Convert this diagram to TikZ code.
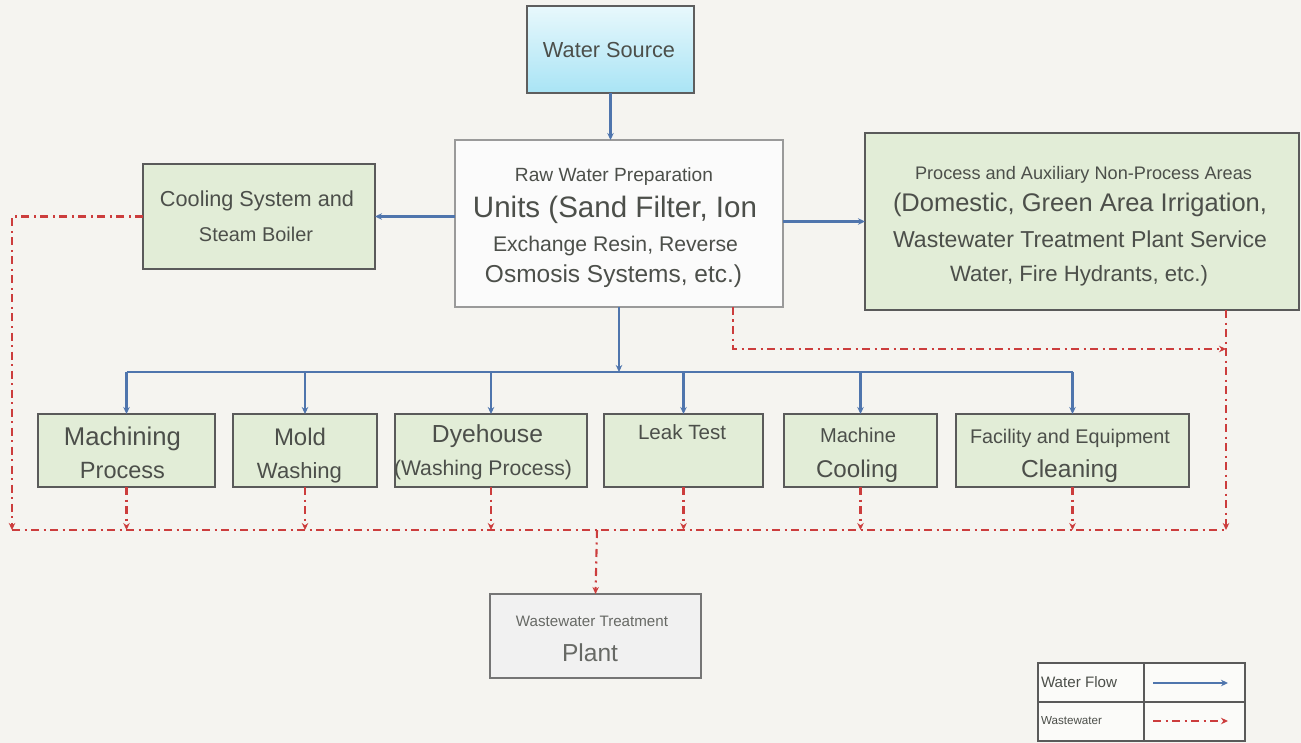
\documentclass[tikz,border=0pt]{standalone}
\usepackage{fontspec}
\setmainfont{Liberation Sans}
\usepackage{graphicx}
\usetikzlibrary{arrows.meta}
\definecolor{bgc}{HTML}{F5F4F0}
\definecolor{greenf}{HTML}{E2EDD7}
\definecolor{boxb}{HTML}{5A5A5A}
\definecolor{rawf}{HTML}{FBFBFB}
\definecolor{rawb}{HTML}{9A9A9A}
\definecolor{plantf}{HTML}{F1F1F1}
\definecolor{plantb}{HTML}{757575}
\definecolor{bluec}{HTML}{4F75AD}
\definecolor{redc}{HTML}{CC3D3D}
\definecolor{txtc}{HTML}{4C4F4A}
\definecolor{srctop}{HTML}{E8F8FC}
\definecolor{srcbot}{HTML}{A9E4F5}
\newcommand{\fitw}[2]{\resizebox{#1pt}{!}{#2}}
\tikzset{
  box/.style={draw=boxb, line width=1.3pt, fill=greenf, inner sep=0pt, outer sep=0pt},
  txt/.style={anchor=base, inner sep=0pt, outer sep=0pt, text=txtc},
  ltxt/.style={anchor=base west, inner sep=0pt, outer sep=0pt, text=txtc},
  flowl/.style={draw=bluec, line width=2.6pt},
  flow/.style={flowl, -{Stealth[length=7pt,width=6.5pt]}},
  wastel/.style={draw=redc, line width=2.1pt, dash pattern=on 8pt off 4.5pt on 2pt off 4.5pt},
  waste/.style={wastel, -{Stealth[length=7pt,width=6.5pt]}},
  legcell/.style={draw=boxb, line width=1.2pt, inner sep=0pt, outer sep=0pt, fill=white!60!bgc},
}
\begin{document}
\begin{tikzpicture}[x=1pt,y=-1pt]
\fill[bgc] (0,0) rectangle (1301,743);
\useasboundingbox (0,0) rectangle (1301,743);

% boxes
\node[box, draw=plantb!80!black, top color=srctop, bottom color=srcbot, minimum width=167pt, minimum height=87pt] (src) at (610.5,49.5) {};
\node[box, draw=rawb, fill=rawf, minimum width=328pt, minimum height=167pt] (raw) at (619,223.5) {};
\node[box, minimum width=232pt, minimum height=105pt] (cool) at (259,216.5) {};
\node[box, minimum width=434pt, minimum height=177pt] (proc) at (1082,221.5) {};
\node[box, minimum width=177pt, minimum height=73pt] (mach) at (126.5,450.5) {};
\node[box, minimum width=144pt, minimum height=73pt] (mold) at (305,450.5) {};
\node[box, minimum width=192pt, minimum height=73pt] (dye) at (491,450.5) {};
\node[box, minimum width=159pt, minimum height=73pt] (leak) at (683.5,450.5) {};
\node[box, minimum width=153pt, minimum height=73pt] (mc) at (860.5,450.5) {};
\node[box, minimum width=233pt, minimum height=73pt] (fac) at (1072.5,450.5) {};
\node[box, draw=plantb, fill=plantf, minimum width=211pt, minimum height=84pt] (plant) at (595.5,636) {};

% texts
\node[txt] (srct) at (609,58) {\fitw{132}{Water Source}};
\node[txt] (raw1) at (614,182) {\fitw{198}{Raw Water Preparation}};
\node[txt] (raw2) at (615,218) {\fitw{284}{Units (Sand Filter, Ion}};
\node[txt] (raw3) at (615.5,252) {\fitw{245}{Exchange Resin, Reverse}};
\node[txt] (raw4) at (613.5,283) {\fitw{257}{Osmosis Systems, etc.)}};
\node[txt] (cool1) at (257,207) {\fitw{194}{Cooling System and}};
\node[txt] (cool2) at (256,242) {\fitw{114}{Steam Boiler}};
\node[txt] (proc1) at (1083.5,180) {\fitw{337}{Process and Auxiliary Non-Process Areas}};
\node[txt] (proc2) at (1080,212) {\fitw{374}{(Domestic, Green Area Irrigation,}};
\node[txt] (proc3) at (1080,248) {\fitw{374}{Wastewater Treatment Plant Service}};
\node[txt] (proc4) at (1079,282) {\fitw{258}{Water, Fire Hydrants, etc.)}};
\node[txt] (mach1) at (122.5,445) {\fitw{117}{Machining}};
\node[txt] (mach2) at (122.5,478) {\fitw{85}{Process}};
\node[txt] (mold1) at (300,445) {\fitw{52}{Mold}};
\node[txt] (mold2) at (299.5,478) {\fitw{85}{Washing}};
\node[txt] (dye1) at (487.5,442) {\fitw{111}{Dyehouse}};
\node[txt] (dye2) at (483,475) {\fitw{178}{(Washing Process)}};
\node[txt] (leak1) at (682,439) {\fitw{88}{Leak Test}};
\node[txt] (mc1) at (858,442) {\fitw{76}{Machine}};
\node[txt] (mc2) at (857,477) {\fitw{82}{Cooling}};
\node[txt] (fac1) at (1070,443) {\fitw{200}{Facility and Equipment}};
\node[txt] (fac2) at (1069.5,477) {\fitw{97}{Cleaning}};
\node[txt, text=txtc!85] (pl1) at (592,626) {\fitw{152}{Wastewater Treatment}};
\node[txt, text=txtc!85] (pl2) at (590,661) {\fitw{56}{Plant}};

% water flow
\coordinate (bus) at (617,372);
\draw[flow] (src.south) -- (src.south |- raw.north);
\draw[flow] (raw.west |- cool.east) -- (cool.east);
\draw[flow] (raw.east |- proc.west) -- (proc.west);
\draw[flow] (raw.south) -- (raw.south |- bus);
\draw[flowl] (bus -| mach.north) -- (bus -| fac.north);
\foreach \b in {mach,mold,dye,leak,mc,fac}
  \draw[flow] (bus -| \b.north) -- (\b.north);

% wastewater
\coordinate (colL) at (12,530);
\coordinate (colR) at (1226,530);
\coordinate (rwx) at (733,349);
\coordinate (pj) at (597,530);
\draw[wastel] (colL) -- (colR);
\draw[waste] (cool.west) -- (cool.west -| colL) -- (colL);
\foreach \b in {mach,mold,dye,leak,mc,fac}
  \draw[waste] (\b.south) -- (\b.south |- colL);
\draw[waste] (raw.south -| rwx) -- (rwx) -- (rwx -| colR);
\draw[waste] (proc.south -| colR) -- (colR);
\draw[waste] (pj) -- (plant.north);

% legend
\node[legcell, minimum width=106pt, minimum height=39pt] (lg11) at (1091,682.5) {};
\node[legcell, minimum width=101pt, minimum height=39pt] (lg12) at (1194.5,682.5) {};
\node[legcell, minimum width=106pt, minimum height=39pt] (lg21) at (1091,721.5) {};
\node[legcell, minimum width=101pt, minimum height=39pt] (lg22) at (1194.5,721.5) {};
\node[ltxt] (lgt1) at (1041,687) {\fitw{76}{Water Flow}};
\node[ltxt] (lgt2) at (1041,724) {\fitw{61}{Wastewater}};
\coordinate (la1) at (1153,683);
\coordinate (la2) at (1228,683);
\coordinate (lb1) at (1153,721);
\coordinate (lb2) at (1228,721);
\draw[flow] (la1) -- (la2);
\draw[waste] (lb1) -- (lb2);
\end{tikzpicture}
\end{document}
